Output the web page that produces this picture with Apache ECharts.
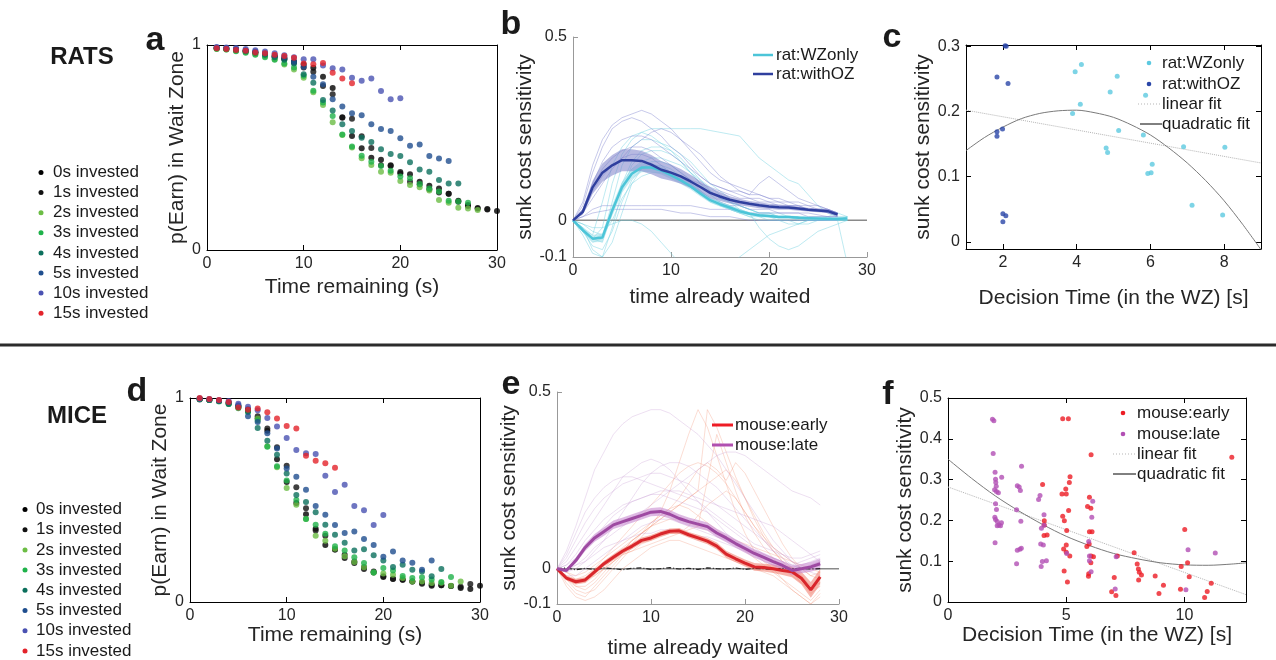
<!DOCTYPE html>
<html><head><meta charset="utf-8">
<script src="https://cdn.jsdelivr.net/npm/echarts@6/dist/echarts.min.js"></script>
<style>html,body{margin:0;padding:0;background:#fff}#c{width:1276px;height:660px}</style>
</head><body><div id="c"></div>
<script>
const FONT = '"Liberation Sans", Arial, Helvetica, sans-serif';

// ---------- legend / categories ----------
const investLabels = ['0s invested','1s invested','2s invested','3s invested','4s invested','5s invested','10s invested','15s invested'];
const investColors = ['#000000','#111111','#6cbd45','#1fb24a','#0b6f5c','#1f4e8e','#4a52b2','#e3232b'];

// ---------- panel a : rats, p(Earn) vs time remaining (x = 1..n) ----------
const rat0s  = [0.985,0.982,0.978,0.972,0.965,0.955,0.945,0.935,0.92,0.905,0.889,0.845,0.79,0.647,0.556,0.496,0.45,0.44,0.413,0.374,0.369,0.333,0.314,0.30,0.274,0.24,0.22,0.203,0.197,0.19];
const rat1s  = [0.983,0.98,0.975,0.97,0.962,0.952,0.942,0.93,0.915,0.89,0.87,0.80,0.76,0.645,0.64,0.555,0.497,0.413,0.41,0.38,0.333,0.32,0.296,0.28,0.275,0.235,0.215,0.205,0.2];
const rat2s  = [0.98,0.978,0.972,0.965,0.955,0.945,0.93,0.905,0.88,0.84,0.77,0.707,0.623,0.561,0.50,0.447,0.415,0.382,0.377,0.337,0.317,0.306,0.29,0.244,0.231,0.206,0.203,0.195];
const rat3s  = [0.982,0.978,0.97,0.962,0.953,0.94,0.928,0.91,0.89,0.85,0.777,0.72,0.654,0.564,0.505,0.46,0.43,0.41,0.387,0.358,0.35,0.322,0.30,0.285,0.24,0.236,0.231];
const rat4s  = [0.985,0.982,0.977,0.97,0.962,0.952,0.94,0.928,0.91,0.857,0.816,0.732,0.68,0.613,0.58,0.548,0.527,0.491,0.468,0.459,0.428,0.393,0.382,0.341,0.325,0.325];
const rat5s  = [0.988,0.985,0.98,0.975,0.968,0.96,0.95,0.94,0.918,0.894,0.845,0.808,0.735,0.70,0.667,0.657,0.613,0.59,0.58,0.545,0.509,0.515,0.459,0.446,0.434];
const rat10s = [0.99,0.988,0.985,0.98,0.975,0.968,0.96,0.95,0.94,0.93,0.93,0.90,0.886,0.88,0.84,0.826,0.836,0.776,0.735,0.74];
const rat15s = [0.984,0.98,0.976,0.972,0.964,0.96,0.953,0.946,0.938,0.91,0.906,0.912,0.865,0.837,0.813];
const ratSeries = [rat0s,rat1s,rat2s,rat3s,rat4s,rat5s,rat10s,rat15s];

// ---------- panel d : mice ----------
const mouse0s  = [0.995,0.99,0.985,0.975,0.96,0.94,0.9,0.84,0.70,0.588,0.485,0.43,0.359,0.279,0.257,0.216,0.191,0.162,0.145,0.123,0.113,0.109,0.101,0.09,0.08,0.082,0.078,0.069,0.064,0.08];
const mouse1s  = [0.993,0.99,0.985,0.975,0.962,0.945,0.91,0.85,0.758,0.668,0.562,0.459,0.351,0.325,0.257,0.232,0.199,0.17,0.15,0.126,0.114,0.109,0.101,0.095,0.085,0.082,0.078,0.075,0.088];
const mouse2s  = [0.995,0.99,0.985,0.972,0.955,0.935,0.9,0.763,0.66,0.559,0.477,0.407,0.325,0.30,0.261,0.224,0.196,0.17,0.145,0.14,0.134,0.118,0.101,0.1,0.093,0.094,0.08,0.1];
const mouse3s  = [0.995,0.99,0.983,0.97,0.95,0.93,0.89,0.761,0.665,0.596,0.50,0.407,0.379,0.335,0.273,0.252,0.219,0.191,0.145,0.167,0.154,0.127,0.118,0.121,0.11,0.098,0.123];
const mouse4s  = [0.995,0.99,0.985,0.97,0.955,0.935,0.853,0.79,0.722,0.63,0.525,0.49,0.44,0.379,0.33,0.291,0.252,0.258,0.229,0.203,0.172,0.183,0.158,0.15,0.126,0.162];
const mouse5s  = [0.997,0.993,0.987,0.978,0.965,0.91,0.882,0.827,0.752,0.655,0.614,0.55,0.47,0.428,0.377,0.338,0.346,0.309,0.279,0.222,0.248,0.203,0.193,0.158,0.203];
const mouse10s = [0.998,0.995,0.99,0.985,0.972,0.957,0.94,0.902,0.86,0.804,0.745,0.729,0.725,0.619,0.539,0.575,0.47,0.45,0.377,0.426];
const mouse15s = [1.0,0.995,0.99,0.98,0.954,0.943,0.948,0.93,0.90,0.863,0.851,0.717,0.693,0.68,0.658];
const mouseSeries = [mouse0s,mouse1s,mouse2s,mouse3s,mouse4s,mouse5s,mouse10s,mouse15s];

// ---------- panel b : rats sunk-cost sensitivity vs time waited (x = 0..n) ----------
const ratOZMean = [0,0.023,0.09,0.13,0.15,0.164,0.164,0.162,0.152,0.138,0.13,0.12,0.106,0.091,0.075,0.065,0.056,0.05,0.045,0.041,0.038,0.036,0.035,0.032,0.029,0.027,0.025,0.016];
const ratOZSem  = [0,0.008,0.018,0.025,0.028,0.03,0.03,0.028,0.026,0.024,0.022,0.02,0.018,0.016,0.014,0.012,0.01,0.009,0.008,0.008,0.007,0.007,0.006,0.006,0.005,0.005,0.005,0.004];
const ratWZMean = [0,-0.027,-0.05,-0.047,0.027,0.09,0.127,0.144,0.144,0.136,0.123,0.109,0.093,0.073,0.055,0.044,0.035,0.025,0.018,0.014,0.012,0.009,0.009,0.007,0.006,0.005,0.004,0.004,0.005];
const ratWZSem  = [0,0.006,0.01,0.012,0.015,0.015,0.014,0.013,0.012,0.011,0.01,0.01,0.009,0.008,0.007,0.006,0.006,0.005,0.005,0.004,0.004,0.004,0.004,0.004,0.004,0.004,0.004,0.004,0.004];
const ratOZTraces = [
  [0,0.05,0.15,0.22,0.26,0.28,0.29,0.3,0.29,0.27,0.25,0.22,0.19,0.16,0.13,0.11,0.1,0.09,0.08,0.07,0.06,0.05,0.05,0.04,0.04,0.03,0.03,0.02],
  [0,0.04,0.13,0.2,0.25,0.27,0.28,0.27,0.25,0.23,0.2,0.18,0.15,0.12,0.1,0.09,0.08,0.07,0.06,0.06,0.05,0.05,0.04,0.04,0.03,0.03,0.02,0.01],
  [0,0.03,0.1,0.16,0.2,0.22,0.23,0.23,0.22,0.2,0.18,0.16,0.14,0.12,0.1,0.09,0.08,0.08,0.07,0.07,0.06,0.06,0.05,0.05,0.04,0.04,0.03,0.02],
  [0,0.02,0.08,0.12,0.15,0.17,0.18,0.18,0.17,0.15,0.13,0.11,0.09,0.07,0.06,0.05,0.04,0.04,0.03,0.03,0.03,0.02,0.02,0.02,0.01,0.01,0.01,0.01],
  [0,0.01,0.03,0.04,0.04,0.04,0.04,0.04,0.04,0.04,0.04,0.04,0.04,0.035,0.03,0.03,0.03,0.025,0.02,0.02,0.02,0.02,0.02,0.02,0.02,0.015,0.01,0.01],
  [0,0.01,0.02,0.025,0.03,0.03,0.03,0.03,0.03,0.03,0.025,0.02,0.02,0.015,0.01,0.01,0.01,0.005,0,0,0,0,0,0,0,0,0,0],
  [0,0.03,0.09,0.14,0.17,0.19,0.2,0.2,0.19,0.17,0.15,0.13,0.11,0.1,0.09,0.08,0.07,0.06,0.06,0.05,0.05,0.04,0.04,0.04,0.03,0.03,0.03,0.02],
  [0,0.02,0.06,0.1,0.14,0.17,0.2,0.22,0.24,0.25,0.24,0.22,0.2,0.18,0.15,0.12,0.1,0.08,0.07,0.1,0.12,0.1,0.08,0.06,0.05,0.04,0.03,0.02]
];
const ratWZTraces = [
  [0,-0.03,-0.06,-0.05,0.05,0.15,0.2,0.22,0.22,0.21,0.2,0.18,0.16,0.13,0.1,0.08,0.06,0.04,0.03,0.02,0.02,0.01,0.01,0,0,0,0,0,0.01],
  [0,-0.02,-0.08,-0.1,-0.02,0.08,0.15,0.18,0.19,0.19,0.18,0.16,0.13,0.1,0.07,0.05,0.03,0.02,0.01,0,0,0,-0.01,-0.01,0,0,0,0,0.01],
  [0,-0.03,-0.05,-0.02,0.1,0.18,0.22,0.24,0.25,0.25,0.25,0.25,0.25,0.25,0.245,0.24,0.235,0.23,0.2,0.17,0.15,0.13,0.11,0.1,0.07,0.04,0.02,0.01,0.01],
  [0,-0.01,-0.03,-0.04,0,0.06,0.1,0.12,0.13,0.13,0.12,0.11,0.09,0.07,0.05,0.04,0.03,0.02,0.01,0.01,0,0,0,0,0,0,0,0,0],
  [0,-0.04,-0.09,-0.1,-0.06,0.02,0.1,0.14,0.16,0.16,0.15,0.13,0.11,0.08,0.06,0.05,0.04,0.03,0.02,0.01,0.01,0,0,-0.01,-0.01,0,0,0,0],
  [0,-0.02,-0.04,0.05,0.15,0.2,0.23,0.24,0.23,0.21,0.19,0.16,0.13,0.1,0.08,0.06,0.05,0.04,0.03,0.02,0.02,0.01,0.01,0.01,0,0,0,0,0],
  [0,-0.03,-0.05,-0.06,0.02,0.1,0.14,0.16,0.17,0.17,0.16,0.15,0.13,0.11,0.09,0.07,0.05,0.03,0.02,-0.02,-0.05,-0.07,-0.08,-0.07,-0.05,-0.03,-0.02,-0.01,0],
  [0,-0.01,-0.02,-0.02,-0.01,0,0,-0.01,-0.03,-0.06,-0.09,-0.12,-0.14,-0.15,-0.15,-0.14,-0.12,-0.1,-0.08,-0.06,-0.04,-0.03,-0.02,-0.01,0,0,0,0,0],
  [0,-0.03,-0.07,-0.08,-0.03,0.05,0.11,0.14,0.15,0.15,0.14,0.12,0.1,0.08,0.06,0.04,0.03,0.02,0.02,0.01,0.01,0.01,0.01,0.01,0.01,0.01,0.01,0,-0.12],
  [0,-0.02,-0.05,-0.04,0.03,0.1,0.16,0.19,0.2,0.2,0.19,0.17,0.14,0.11,0.08,0.06,0.05,0.04,0.03,0.02,0.02,0.02,0.01,0.01,0,0,0.01,0.02,0.01]
];

// ---------- panel e : mice sunk-cost sensitivity ----------
const mouseLateMean  = [0,-0.005,0.023,0.06,0.087,0.105,0.124,0.133,0.142,0.151,0.16,0.162,0.154,0.142,0.133,0.126,0.119,0.101,0.087,0.071,0.057,0.043,0.032,0.02,0.009,-0.005,0,0.005,0.014];
const mouseLateSem   = [0,0.004,0.008,0.01,0.011,0.012,0.012,0.012,0.012,0.012,0.012,0.012,0.012,0.012,0.012,0.012,0.012,0.012,0.012,0.012,0.012,0.012,0.012,0.012,0.012,0.013,0.013,0.014,0.014];
const mouseEarlyMean = [0,-0.027,-0.037,-0.032,-0.009,0.014,0.032,0.05,0.064,0.08,0.087,0.098,0.106,0.107,0.096,0.087,0.078,0.064,0.041,0.028,0.016,0.005,0.003,0,-0.005,-0.009,-0.027,-0.06,-0.023];
const mouseEarlySem  = [0,0.006,0.008,0.008,0.008,0.008,0.008,0.008,0.008,0.008,0.008,0.008,0.008,0.008,0.008,0.009,0.009,0.01,0.01,0.01,0.01,0.011,0.011,0.012,0.013,0.015,0.018,0.022,0.022];
const mouseNullLine  = [0,0.002,-0.003,0.001,-0.002,0.002,0,-0.003,0.001,0.002,-0.002,0,0.003,-0.001,0.001,-0.002,0.002,0,-0.001,0.002,-0.002,0.001,0,-0.002,0.001,0,0.001,-0.001,0];
const mouseLateTraces = [
  [0,0.05,0.12,0.2,0.28,0.33,0.38,0.41,0.43,0.44,0.45,0.45,0.44,0.42,0.4,0.38,0.35,0.32,0.28,0.24,0.2,0.16,0.12,0.08,0.05,0.02,0,0,0],
  [0,0.03,0.08,0.13,0.17,0.2,0.22,0.24,0.25,0.26,0.27,0.27,0.26,0.25,0.24,0.22,0.2,0.18,0.16,0.14,0.12,0.1,0.08,0.06,0.04,0.02,0.01,0.02,0.03],
  [0,0.01,0.04,0.08,0.11,0.14,0.16,0.18,0.19,0.2,0.21,0.21,0.2,0.19,0.18,0.17,0.16,0.14,0.12,0.1,0.08,0.06,0.04,0.03,0.02,0.01,0.02,0.03,0.04],
  [0,-0.01,0.01,0.03,0.06,0.08,0.1,0.12,0.14,0.16,0.18,0.2,0.22,0.24,0.26,0.28,0.3,0.32,0.33,0.33,0.32,0.3,0.28,0.26,0.24,0.22,0.21,0.2,0.18],
  [0,0.02,0.06,0.1,0.14,0.18,0.22,0.26,0.28,0.3,0.31,0.3,0.28,0.25,0.22,0.19,0.16,0.13,0.1,0.08,0.06,0.04,0.02,0.01,0,-0.01,0,0.01,0.02],
  [0,0,0.01,0.02,0.04,0.06,0.07,0.08,0.09,0.1,0.1,0.11,0.11,0.1,0.1,0.09,0.09,0.08,0.07,0.06,0.05,0.04,0.03,0.02,0.01,0,0,0,0],
  [0,-0.02,-0.02,0,0.02,0.04,0.06,0.08,0.1,0.12,0.13,0.14,0.14,0.13,0.12,0.11,0.1,0.09,0.08,0.07,0.06,0.05,0.04,0.03,0.02,0.01,0,0.01,0.02],
  [0,0.04,0.1,0.16,0.2,0.23,0.25,0.26,0.26,0.25,0.24,0.23,0.22,0.21,0.2,0.19,0.17,0.15,0.13,0.11,0.09,0.07,0.06,0.05,0.04,0.03,0.03,0.04,0.05],
  [0,0.01,0.03,0.06,0.09,0.12,0.15,0.17,0.19,0.2,0.21,0.22,0.22,0.22,0.21,0.2,0.19,0.18,0.17,0.16,0.15,0.14,0.13,0.12,0.1,0.08,0.06,0.04,0.02],
  [0,-0.01,0,0.02,0.05,0.08,0.12,0.16,0.2,0.24,0.27,0.29,0.3,0.3,0.29,0.27,0.25,0.23,0.2,0.17,0.14,0.11,0.08,0.05,0.03,0.01,0,-0.01,-0.02]
];
const mouseEarlyTraces = [
  [0,-0.03,-0.06,-0.07,-0.06,-0.03,0,0.03,0.06,0.09,0.12,0.16,0.22,0.3,0.38,0.45,0.4,0.32,0.24,0.16,0.1,0.05,0.02,0,-0.03,-0.06,-0.08,-0.1,-0.08],
  [0,-0.02,-0.04,-0.04,-0.02,0,0.03,0.05,0.08,0.1,0.12,0.14,0.16,0.18,0.2,0.22,0.45,0.4,0.33,0.26,0.2,0.14,0.09,0.05,0.02,0,-0.02,-0.05,-0.04],
  [0,-0.04,-0.07,-0.08,-0.05,-0.02,0.01,0.04,0.07,0.1,0.13,0.15,0.17,0.18,0.17,0.15,0.13,0.11,0.09,0.07,0.05,0.03,0.01,-0.01,-0.03,-0.05,-0.07,-0.09,-0.06],
  [0,-0.01,-0.02,-0.01,0.01,0.03,0.05,0.07,0.09,0.11,0.13,0.15,0.17,0.2,0.24,0.28,0.3,0.28,0.25,0.3,0.27,0.22,0.17,0.12,0.07,0.03,0,-0.02,-0.03],
  [0,-0.05,-0.08,-0.09,-0.08,-0.06,-0.03,0,0.02,0.04,0.06,0.07,0.08,0.08,0.07,0.06,0.05,0.04,0.03,0.02,0.01,0,-0.01,-0.02,-0.04,-0.06,-0.08,-0.1,-0.07],
  [0,-0.02,-0.03,-0.02,0,0.03,0.06,0.09,0.12,0.15,0.18,0.21,0.24,0.27,0.29,0.3,0.29,0.27,0.24,0.2,0.16,0.12,0.09,0.06,0.04,0.02,0,-0.02,-0.01],
  [0,-0.03,-0.05,-0.05,-0.03,0,0.02,0.04,0.05,0.06,0.07,0.08,0.09,0.1,0.12,0.15,0.18,0.2,0.22,0.2,0.16,0.12,0.08,0.05,0.02,-0.01,-0.04,-0.07,-0.05],
  [0,-0.02,-0.05,-0.06,-0.04,-0.01,0.02,0.05,0.08,0.1,0.12,0.13,0.14,0.14,0.13,0.12,0.11,0.1,0.09,0.08,0.07,0.06,0.05,0.04,0.03,0.02,0.01,0,-0.01],
  [0,-0.03,-0.04,-0.03,-0.01,0.02,0.04,0.06,0.08,0.1,0.12,0.14,0.16,0.18,0.2,0.22,0.24,0.26,0.28,0.25,0.2,0.15,0.1,0.06,0.03,0,-0.03,-0.06,-0.04],
  [0,-0.01,-0.03,-0.03,-0.02,0,0.02,0.04,0.05,0.07,0.08,0.09,0.1,0.1,0.11,0.12,0.25,0.38,0.3,0.22,0.15,0.1,0.06,0.03,0,-0.02,-0.04,-0.06,-0.05]
];

// ---------- panel c : rats decision time vs sensitivity ----------
const ratWZPoints = [[4.13,0.272],[3.96,0.261],[4.10,0.211],[3.89,0.197],[5.1,0.254],[4.91,0.230],[5.87,0.225],[5.14,0.171],[5.81,0.164],[4.8,0.144],[4.84,0.137],[6.05,0.119],[6.02,0.106],[5.93,0.105],[6.9,0.146],[8.02,0.145],[7.13,0.056],[7.96,0.041]];
const ratOZPoints = [[2.09,0.300],[2.06,0.301],[1.84,0.253],[2.14,0.243],[1.84,0.169],[1.99,0.173],[1.84,0.162],[2.0,0.043],[2.08,0.040],[2.0,0.031]];
const ratLinFit  = [[1,0.202],[9,0.121]];
const ratQuadFit = [[1,0.140],[1.5,0.160],[2,0.176],[2.5,0.189],[3,0.197],[3.5,0.201],[4,0.202],[4.5,0.198],[5,0.191],[5.5,0.179],[6,0.164],[6.5,0.144],[7,0.121],[7.5,0.094],[8,0.063],[8.5,0.027],[9,-0.012]];

// ---------- panel f : mice ----------
const mouseEarlyPoints = [[4.85,0.449],[5.09,0.449],[4.0,0.288],[5.16,0.307],[5.13,0.293],[4.82,0.265],[4.98,0.277],[5.0,0.265],[6.05,0.361],[5.98,0.257],[5.9,0.234],[6.04,0.230],[5.1,0.224],[4.85,0.210],[4.92,0.199],[4.07,0.199],[4.07,0.189],[4.06,0.163],[4.19,0.164],[5.02,0.175],[5.98,0.172],[6.09,0.172],[5.87,0.136],[5.97,0.142],[5.0,0.14],[4.89,0.130],[5.0,0.122],[5.15,0.113],[6.05,0.113],[6.15,0.111],[6.04,0.096],[4.91,0.076],[5.05,0.049],[5.95,0.069],[5.94,0.063],[7.03,0.060],[7.16,0.113],[6.92,0.025],[7.1,0.016],[7.87,0.121],[8.0,0.093],[8.05,0.081],[8.09,0.073],[8.18,0.066],[8.06,0.054],[8.76,0.064],[9.11,0.041],[8.92,0.021],[10.01,0.178],[10.13,0.096],[9.86,0.087],[10.2,0.062],[9.83,0.031],[11.13,0.046],[10.96,0.026],[10.85,0.011],[12.0,0.355]];
const mouseLatePoints = [[1.88,0.448],[1.94,0.444],[1.91,0.364],[1.99,0.318],[2.01,0.301],[2.02,0.293],[2.04,0.284],[1.97,0.275],[2.05,0.271],[2.13,0.268],[2.27,0.306],[2.01,0.241],[2.05,0.227],[1.98,0.208],[2.01,0.202],[2.08,0.197],[2.15,0.189],[2.08,0.187],[2.22,0.187],[2.26,0.194],[1.99,0.145],[3.11,0.333],[2.93,0.285],[3.01,0.282],[3.06,0.273],[2.9,0.226],[3.08,0.198],[2.93,0.127],[3.04,0.129],[3.1,0.132],[2.9,0.094],[3.89,0.261],[3.83,0.251],[4.06,0.214],[4.06,0.188],[3.95,0.181],[3.92,0.142],[4.03,0.14],[3.99,0.099],[4.16,0.101],[3.94,0.087],[6.12,0.247],[6.08,0.208],[5.95,0.148],[5.98,0.113],[5.98,0.101],[6.05,0.074],[7.11,0.111],[7.07,0.032],[10.15,0.128],[11.3,0.12],[10.06,0.030],[5.02,0.119]];
const mouseLinFit  = [[0,0.282],[12.6,0.018]];
const mouseQuadFit = [[0,0.350],[1,0.303],[2,0.260],[3,0.223],[4,0.190],[5,0.161],[6,0.138],[7,0.119],[8,0.106],[9,0.096],[10,0.091],[11,0.090],[12,0.093],[12.6,0.096]];

// ---------- tick values ----------
const ticksTime = [0,10,20,30];
const ticksProb = [0,1];
const ticksSens = [-0.1,0,0.5];
const ticksDecRat = [2,4,6,8];
const ticksSensRat = [0,0.1,0.2,0.3];
const ticksDecMouse = [0,5,10];
const ticksSensMouse = [0,0.1,0.2,0.3,0.4,0.5];

// ================= build =================
const grids = [
  {left:207, top:45,  width:290, height:205},  // a
  {left:573, top:37,  width:294, height:220},  // b
  {left:966, top:45,  width:295, height:204},  // c
  {left:190, top:398, width:290, height:204},  // d
  {left:557, top:392, width:282, height:216},  // e
  {left:948, top:398, width:298, height:204}   // f
];
const xAxes = [], yAxes = [];
function ax(list, o) {
  const col = o.color || '#000';
  list.push({
    type:'value', gridIndex:o.grid, min:o.min, max:o.max, position:o.pos,
    splitLine:{show:false},
    axisLine:{show:true, onZero:false, lineStyle:{color:col, width:1}},
    axisTick:{show:true, inside:true, length:5, customValues:o.ticks, lineStyle:{color:col}},
    axisLabel:{show:!o.hide, customValues:o.ticks, color:'#262626', fontFamily:FONT, fontSize:o.fs||16, margin:o.margin||6},
    name:o.name||'', nameLocation:'middle', nameGap:o.gap||20,
    nameTextStyle:{fontFamily:FONT, fontSize:21, color:'#262626'}
  });
  return list.length-1;
}
function boxPanel(g, xr, yr, xt, yt, xname, yname, xgap, ygap, fs) {
  const xi = ax(xAxes,{grid:g,min:xr[0],max:xr[1],pos:'bottom',ticks:xt,name:xname,gap:xgap,fs});
  ax(xAxes,{grid:g,min:xr[0],max:xr[1],pos:'top',ticks:xt,hide:true});
  const yi = ax(yAxes,{grid:g,min:yr[0],max:yr[1],pos:'left',ticks:yt,name:yname,gap:ygap,fs});
  ax(yAxes,{grid:g,min:yr[0],max:yr[1],pos:'right',ticks:yt,hide:true});
  return [xi,yi];
}
function openPanel(g, xr, yr, xt, yt, xname, yname, xgap, ygap) {
  const xi = ax(xAxes,{grid:g,min:xr[0],max:xr[1],pos:'bottom',ticks:xt,name:xname,gap:xgap,color:'#999'});
  const yi = ax(yAxes,{grid:g,min:yr[0],max:yr[1],pos:'left',ticks:yt,name:yname,gap:ygap,color:'#999'});
  return [xi,yi];
}
const A = boxPanel(0,[0,30],[0,1],ticksTime,ticksProb,'Time remaining (s)','p(Earn) in Wait Zone',27,8,16);
const B = openPanel(1,[0,30],[-0.1,0.5],ticksTime,ticksSens,'time already waited','sunk cost sensitivity',30,20);
const C = boxPanel(2,[1,9],[-0.011,0.302],ticksDecRat,ticksSensRat,'Decision Time (in the WZ) [s]','sunk cost sensitivity',39,25,16);
const D = boxPanel(3,[0,30],[0,1],ticksTime,ticksProb,'Time remaining (s)','p(Earn) in Wait Zone',21,7,16);
const E = openPanel(4,[0,30],[-0.1,0.5],ticksTime,ticksSens,'time already waited','sunk cost sensitivity',34,20);
const F = boxPanel(5,[0,12.6],[0,0.5],ticksDecMouse,ticksSensMouse,'Decision Time (in the WZ) [s]','sunk cost sensitivity',22,28,16);

const series = [];
function idx(arr, start){ return arr.map((v,i)=>[i+start, v]); }
ratSeries.forEach((arr,k)=>series.push({type:'scatter', xAxisIndex:A[0], yAxisIndex:A[1], symbolSize:6, itemStyle:{color:investColors[k]}, data:idx(arr,1), z:3+k}));
mouseSeries.forEach((arr,k)=>series.push({type:'scatter', xAxisIndex:D[0], yAxisIndex:D[1], symbolSize:6, itemStyle:{color:investColors[k]}, data:idx(arr,1), z:3+k}));

function thin(arr, P, color, op, z){ series.push({type:'line', xAxisIndex:P[0], yAxisIndex:P[1], data:idx(arr,0), symbol:'none', lineStyle:{color, width:1, opacity:op}, z:z||1}); }
function band(mean, sem, P, color, op, z){
  const data = mean.map((m,i)=>[i, m-sem[i], m+sem[i]]);
  series.push({type:'custom', xAxisIndex:P[0], yAxisIndex:P[1], data, z:z||2,
    renderItem:(params, api)=>{
      if (params.dataIndexInside!==0) return;
      const up = data.map(d=>api.coord([d[0],d[2]]));
      const lo = data.map(d=>api.coord([d[0],d[1]])).reverse();
      return {type:'polygon', shape:{points:up.concat(lo)}, style:{fill:color, opacity:op}};
    }});
}
function meanLine(arr, P, color, w, z){ series.push({type:'line', xAxisIndex:P[0], yAxisIndex:P[1], data:idx(arr,0), symbol:'none', lineStyle:{color, width:w}, z:z||4}); }

// b
series.push({type:'line', xAxisIndex:B[0], yAxisIndex:B[1], data:[[0,0],[30,0]], symbol:'none', lineStyle:{color:'#8a8a8a', width:1.5}, z:1});
ratWZTraces.forEach(t=>thin(t,B,'#6fd0e0',0.45));
ratOZTraces.forEach(t=>thin(t,B,'#8388d0',0.45));
band(ratWZMean, ratWZSem, B, '#9fe0ea', 0.6, 2);
band(ratOZMean, ratOZSem, B, '#7b80c8', 0.55, 2);
meanLine(ratWZMean, B, '#4cc5d8', 2.5, 4);
meanLine(ratOZMean, B, '#2f3f9e', 2.5, 5);

// e
series.push({type:'line', xAxisIndex:E[0], yAxisIndex:E[1], data:[[0,0],[30,0]], symbol:'none', lineStyle:{color:'#8a8a8a', width:1.5}, z:1});
mouseEarlyTraces.forEach(t=>thin(t,E,'#f39070',0.3));
mouseLateTraces.forEach(t=>thin(t,E,'#c496cf',0.3));
series.push({type:'line', xAxisIndex:E[0], yAxisIndex:E[1], data:idx(mouseNullLine,0), symbol:'none', lineStyle:{color:'#222', width:1.2, type:[5,2,1,2]}, z:3});
band(mouseEarlyMean, mouseEarlySem, E, '#f07a6a', 0.55, 2);
band(mouseLateMean, mouseLateSem, E, '#c88ad0', 0.6, 2);
meanLine(mouseEarlyMean, E, '#d9262b', 3, 4);
meanLine(mouseLateMean, E, '#9e4aa2', 3, 5);

// c
series.push({type:'line', xAxisIndex:C[0], yAxisIndex:C[1], data:ratLinFit, symbol:'none', lineStyle:{color:'#b5b5b5', width:1, type:'dotted'}, z:2});
series.push({type:'line', xAxisIndex:C[0], yAxisIndex:C[1], data:ratQuadFit, symbol:'none', smooth:0.3, lineStyle:{color:'#7a7a7a', width:1}, z:2});
series.push({type:'scatter', xAxisIndex:C[0], yAxisIndex:C[1], data:ratWZPoints, symbolSize:5, itemStyle:{color:'#5cc9e0'}, z:3});
series.push({type:'scatter', xAxisIndex:C[0], yAxisIndex:C[1], data:ratOZPoints, symbolSize:5, itemStyle:{color:'#2a46a8'}, z:3});

// f
series.push({type:'line', xAxisIndex:F[0], yAxisIndex:F[1], data:mouseLinFit, symbol:'none', lineStyle:{color:'#b5b5b5', width:1, type:'dotted'}, z:2});
series.push({type:'line', xAxisIndex:F[0], yAxisIndex:F[1], data:mouseQuadFit, symbol:'none', smooth:0.3, lineStyle:{color:'#7a7a7a', width:1}, z:2});
series.push({type:'scatter', xAxisIndex:F[0], yAxisIndex:F[1], data:mouseEarlyPoints, symbolSize:5, itemStyle:{color:'#ec1c24'}, z:3});
series.push({type:'scatter', xAxisIndex:F[0], yAxisIndex:F[1], data:mouseLatePoints, symbolSize:5, itemStyle:{color:'#b24fb4'}, z:3});

// ---------- graphics: titles, letters, legends ----------
const g = [];
function txt(x,y,text,font,opts){ opts=opts||{}; g.push({type:'text', x, y, z:100, style:{text, font, fill:opts.fill||'#1a1a1a', textAlign:opts.align||'left', align:opts.align||'left', textVerticalAlign:'middle', verticalAlign:'middle'}}); }
function seg(x1,y1,x2,y2,stroke,w,dash){ g.push({type:'line', z:100, shape:{x1,y1,x2,y2}, style:{stroke, lineWidth:w, lineDash:dash||null}}); }
function dot(cx,cy,fill,r){ g.push({type:'circle', z:100, shape:{cx,cy,r:r||2.5}, style:{fill}}); }
const LF = '17px ' + FONT;
const BF = 'bold 34px ' + FONT;

txt(82,57,'RATS','bold 24px '+FONT,{align:'center'});
txt(77,416,'MICE','bold 24px '+FONT,{align:'center'});
txt(155,41,'a',BF,{align:'center'});
txt(511,25,'b',BF,{align:'center'});
txt(892,38,'c',BF,{align:'center'});
txt(137,392,'d',BF,{align:'center'});
txt(511,385,'e',BF,{align:'center'});
txt(888,395,'f',BF,{align:'center'});
seg(0,345,1276,345,'#2b2b2b',3);

investLabels.forEach((lab,k)=>{ const y = 172.5 + k*20.1; dot(41,y,investColors[k]); txt(53,y,lab,LF); });
investLabels.forEach((lab,k)=>{ const y = 509.5 + k*20.2; dot(25,y,investColors[k]); txt(36,y,lab,LF); });

seg(753,55,773,55,'#4cc5d8',2.5); txt(776,55,'rat:WZonly',LF);
seg(753,74,773,74,'#2f3f9e',2.5); txt(776,74,'rat:withOZ',LF);
seg(712,425,733,425,'#ee1c25',3); txt(735,425,'mouse:early',LF);
seg(712,445,733,445,'#b150b0',3); txt(735,445,'mouse:late',LF);
dot(1149,63,'#5cc9e0',2.3); txt(1162,63,'rat:WZonly',LF);
dot(1149,84,'#2a46a8',2.3); txt(1162,84,'rat:withOZ',LF);
seg(1138,104,1160,104,'#b5b5b5',1,[1,2]); txt(1162,104,'linear fit',LF);
seg(1140,124,1162,124,'#000',1); txt(1162,124,'quadratic fit',LF);
dot(1123,413,'#ec1c24',2.3); txt(1137,413,'mouse:early',LF);
dot(1123,434,'#b24fb4',2.3); txt(1137,434,'mouse:late',LF);
seg(1113,454,1135,454,'#b5b5b5',1,[1,2]); txt(1137,454,'linear fit',LF);
seg(1113,474,1136,474,'#000',1); txt(1137,474,'quadratic fit',LF);

const chart = echarts.init(document.getElementById('c'), null, {renderer:'canvas'});
chart.setOption({
  animation:false, backgroundColor:'#fff',
  textStyle:{fontFamily:FONT},
  grid:grids, xAxis:xAxes, yAxis:yAxes, series, graphic:g
});
</script></body></html>
